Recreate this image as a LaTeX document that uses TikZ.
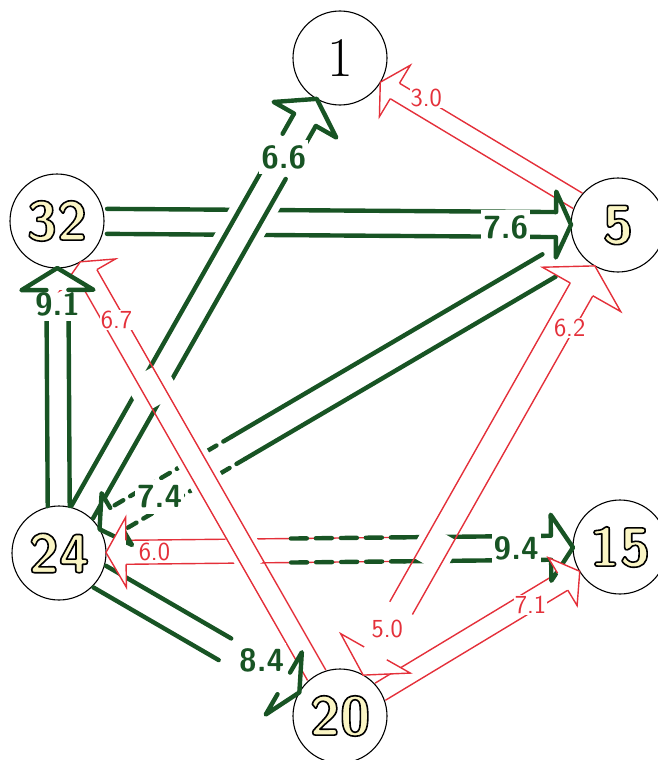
\documentclass[tikz,border=0pt]{standalone}
\usepackage{fontspec}
\usepackage{tikz}
\usetikzlibrary{calc}
\usepackage{xcolor}
\definecolor{pengreen}{RGB}{24,84,36}
\definecolor{penred}{RGB}{228,48,58}
\definecolor{numfill}{RGB}{250,245,196}

% 描边数字（填色 + 黑边）
\newcommand{\outl}[1]{\special{pdf:literal direct q 2 Tr 1.6 w 1 j 0 0 0 RG}#1\special{pdf:literal direct Q}}
% 两条平行线：从 #2 起 #4pt 到离 #3 还有 #5pt，半宽 #6pt
\newcommand{\rails}[6][]{%
  \draw[#1] ($($(#2)!#4pt!(#3)$)!#6pt!90:(#3)$) -- ($($(#3)!#5pt!(#2)$)!#6pt!-90:(#2)$)
            ($($(#2)!#4pt!(#3)$)!#6pt!-90:(#3)$) -- ($($(#3)!#5pt!(#2)$)!#6pt!90:(#2)$);}
% 空心箭头：尖在 #3 的圆边上，底离 #3 中心 #4pt
\newcommand{\openhead}[6][]{%
  \draw[#1] ($($(#3)!#4pt!(#2)$)!#5pt!90:(#2)$) -- ($($(#3)!#4pt!(#2)$)!#6pt!90:(#2)$)
    -- ($(#3)!47pt!(#2)$)
    -- ($($(#3)!#4pt!(#2)$)!#6pt!-90:(#2)$) -- ($($(#3)!#4pt!(#2)$)!#5pt!-90:(#2)$);}
% 交叉处擦白
\newcommand{\knock}[5]{%
  \fill[white] ($($(#1)!#3pt!(#2)$)!#5pt!90:(#2)$) -- ($($(#1)!#4pt!(#2)$)!#5pt!90:(#2)$)
    -- ($($(#1)!#4pt!(#2)$)!#5pt!-90:(#2)$) -- ($($(#1)!#3pt!(#2)$)!#5pt!-90:(#2)$) -- cycle;}

\begin{document}
\begin{tikzpicture}[x=1pt, y=-1pt,
    place/.style={circle, draw, line width=1.1pt, fill=white, minimum size=94pt, inner sep=0pt},
    num/.style={text=numfill, font=\fontsize{55}{57}\selectfont\sffamily\bfseries},
    gband/.style={draw=pengreen, line width=4.4pt, line cap=round},
    rband/.style={draw=penred, line width=1.4pt},
    ghead/.style={gband, line join=round, fill=white},
    rhead/.style={rband, fill=white},
    glab/.style={fill=white, text=pengreen, inner sep=2pt, minimum height=34pt,
        font=\fontsize{32}{34}\selectfont\sffamily\bfseries},
    rlab/.style={fill=white, text=penred, inner sep=1pt,
        font=\fontsize{26}{28}\selectfont\sffamily}]
    \useasboundingbox (0,0) rectangle (657,760);

    % 六个地点
    \node[place, text=black, font=\fontsize{56}{58}\selectfont\rmfamily] (n1) at (340,58) {1};
    \node[place, num] (n5) at (618,225) {\outl{5}};
    \node[place, num] (n32) at (57,221) {\outl{32}};
    \node[place, num] (n24) at (59,553) {\outl{24}};
    \node[place, num] (n15) at (620,547) {\outl{15}};
    \node[place, num] (n20) at (340,716) {\outl{20}};

    % 底层的路
    \rails[gband]{n32}{n5}{50}{62}{12.5}
    \rails[rband]{n24}{n15}{67}{69}{12}
    \rails[gband, dash pattern=on 16pt off 9pt]{n24}{n15}{232}{216}{12}
    \rails[gband]{n24}{n15}{345}{69}{12}
    \rails[gband]{n5}{n24}{80}{208}{13}
    \rails[gband, dash pattern=on 10pt off 8pt]{n5}{n24}{440}{67}{13}
    \rails[gband]{n24}{n20}{47}{133}{12.5}
    \rails[rband]{n20}{n15}{47}{67}{10}

    % 24 -> 1 压在 32 -> 5 上
    \knock{n24}{n1}{345}{415}{22}
    \rails[gband]{n24}{n1}{47}{132}{12.5}
    \rails[gband]{n24}{n1}{475}{71}{12.5}

    % 20 <-> 5
    \knock{n20}{n5}{174}{210}{20}
    \rails[rband]{n20}{n5}{124}{74}{13}

    % 20 -> 32 在最上面
    \knock{n20}{n32}{172}{210}{16}
    \knock{n20}{n32}{265}{301}{17}
    \knock{n20}{n32}{360}{396}{22}
    \rails[rband]{n20}{n32}{47}{62}{10.5}

    \rails[rband]{n5}{n1}{47}{64}{9}
    \rails[gband]{n24}{n32}{47}{99}{11}

    % 数字
    \node[glab, yshift=-3pt] (l76) at ($(n32)!0.80!(n5)$) {7.6};
    \node[glab] (l66) at ($(n24)!0.80!(n1)$) {6.6};
    \node[glab, yshift=-3pt] (l74) at ($(n5)!0.82!(n24)$) {7.4};
    \node[glab] (l91) at ($(n24)!0.75!(n32)$) {9.1};
    \node[glab] (l94) at ($(n24)!0.815!(n15)$) {9.4};
    \node[glab, xshift=6pt, yshift=7pt] (l84) at ($(n24)!0.70!(n20)$) {8.4};
    \node[rlab, yshift=12pt] (l30) at ($(n5)!0.69!(n1)$) {3.0};
    \node[rlab, xshift=3pt] (l67) at ($(n20)!0.80!(n32)$) {6.7};
    \node[rlab, xshift=10pt] (l62) at ($(n20)!0.79!(n5)$) {6.2};
    \node[rlab] (l60) at ($(n15)!0.83!(n24)$) {6.0};
    \node[rlab, yshift=4pt] (l50) at ($(n5)!0.83!(n20)$) {5.0};
    \node[rlab, yshift=-4pt] (l71) at ($(n20)!0.68!(n15)$) {7.1};

    % 箭头
    \openhead[ghead]{n32}{n5}{62}{12.5}{33}
    \openhead[ghead]{n24}{n15}{69}{12}{33}
    \openhead[ghead]{n5}{n24}{67}{13}{30}
    \openhead[rhead]{n15}{n24}{67}{12}{35}
    \openhead[ghead]{n24}{n20}{65}{12.5}{36}
    \openhead[rhead]{n20}{n15}{67}{10}{28}
    \openhead[ghead]{n24}{n1}{71}{12.5}{36}
    \openhead[rhead]{n20}{n5}{74}{13}{45}
    \openhead[rhead]{n5}{n20}{72}{13}{40}
    \openhead[rhead]{n20}{n32}{62}{10.5}{32}
    \openhead[rhead]{n5}{n1}{64}{9}{30}
    \openhead[ghead]{n24}{n32}{69}{11}{36}
\end{tikzpicture}
\end{document}
